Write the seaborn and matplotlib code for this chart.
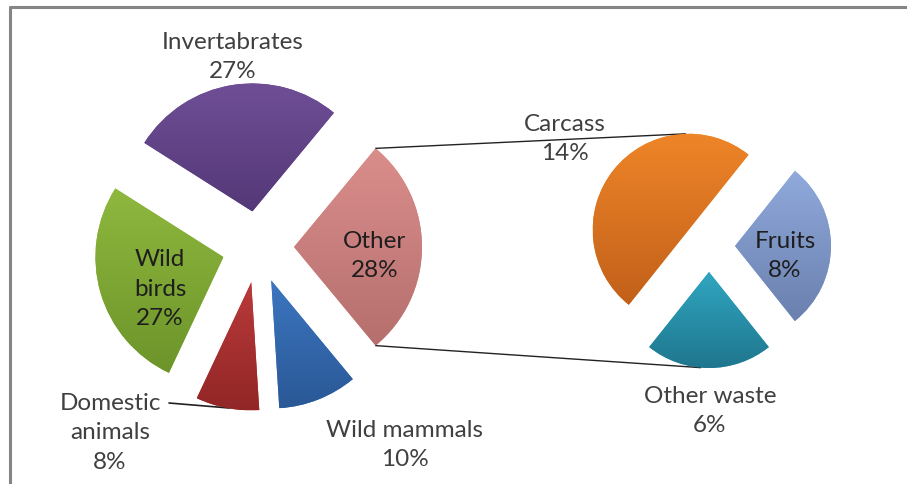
import numpy as np
import matplotlib
matplotlib.use("Agg")
import matplotlib.pyplot as plt
import seaborn as sns
from matplotlib.colors import LinearSegmentedColormap

# Main pie (share of diet, %)
main_labels = ["Other", "Invertabrates", "Wild\nbirds", "Domestic\nanimals", "Wild mammals"]
main_values = [28, 27, 27, 8, 10]

# Breakdown of "Other" (%)
sub_labels = ["Fruits", "Carcass", "Other waste"]
sub_values = [8, 14, 6]

# gradient colours (top, bottom) like the Excel style
main_top = ["#DA8E8C", "#6F4E96", "#8EB83E", "#BA3A3A", "#3C76C0"]
main_bottom = ["#B56F6D", "#533877", "#6C942A", "#922626", "#2A5896"]
sub_top = ["#90AADC", "#EE8528", "#30A6C0"]
sub_bottom = ["#6A80AE", "#C2601A", "#1F768E"]

# label anchors in pixel coords (x, y from top)
main_label_pos = [(375, 256), (233, 57), (160, 289), (110, 433), (405, 445)]
sub_label_pos = [(785, 256), (565, 139), (710, 411)]
main_label_inside = [True, False, True, False, False]
sub_label_inside = [True, False, False]

sns.set_theme(style="white")
plt.rcParams["font.family"] = ["Lato", "DejaVu Sans"]

W, H = 907, 485
fig = plt.figure(figsize=(W / 100, H / 100), dpi=100)
ax = fig.add_axes([0, 0, 1, 1])


def shade(wedges, tops, bottoms):
    # vertical gradient clipped to each wedge
    for w, c0, c1 in zip(wedges, tops, bottoms):
        w.set_edgecolor("none")
        ext = w.get_path().get_extents()
        cmap = LinearSegmentedColormap.from_list("g", [c1, c0])
        im = ax.imshow(np.linspace(0, 1, 256).reshape(-1, 1), cmap=cmap,
                       extent=[ext.x0, ext.x1, ext.y0, ext.y1], origin="lower",
                       aspect="auto", zorder=2, interpolation="bilinear")
        im.set_clip_path(w)


# left pie: "Other" centred on the right side (explode is in data units here)
start_main = -main_values[0] / sum(main_values) * 360 / 2
w_main, _ = ax.pie(main_values, startangle=start_main, counterclock=True,
                   explode=[36] * len(main_values), radius=128,
                   center=(258, H - 248), colors=main_top,
                   wedgeprops=dict(linewidth=0))
shade(w_main, main_top, main_bottom)

# right pie: breakdown, "Fruits" centred on the right side
start_sub = -sub_values[0] / sum(sub_values) * 360 / 2
w_sub, _ = ax.pie(sub_values, startangle=start_sub, counterclock=True,
                  explode=[26] * len(sub_values), radius=96,
                  center=(709, H - 247), colors=sub_top,
                  wedgeprops=dict(linewidth=0))
shade(w_sub, sub_top, sub_bottom)


def on_arc(w, ang):
    return (w.center[0] + w.r * np.cos(np.radians(ang)),
            w.center[1] + w.r * np.sin(np.radians(ang)))


# connector lines
other = w_main[0]
p_top, p_bot = on_arc(other, other.theta2), on_arc(other, other.theta1)
q_top, q_bot = on_arc(w_sub[1], 92), on_arc(w_sub[2], 265)
ax.plot([p_top[0], q_top[0]], [p_top[1], q_top[1]], color="#222222", lw=1.0, zorder=1)
ax.plot([p_bot[0], q_bot[0]], [p_bot[1], q_bot[1]], color="#222222", lw=1.0, zorder=1)

# leader line for Domestic animals
ax.plot([169, 229], [H - 404, H - 409], color="#222222", lw=1.2, zorder=1)

# labels
for lab, v, (x, y), inside in zip(main_labels, main_values, main_label_pos, main_label_inside):
    ax.text(x, H - y, f"{lab}\n{v}%", ha="center", va="center", fontsize=17.5,
            color="#1e1e1e" if inside else "#404040", linespacing=1.5, zorder=5)
for lab, v, (x, y), inside in zip(sub_labels, sub_values, sub_label_pos, sub_label_inside):
    ax.text(x, H - y, f"{lab}\n{v}%", ha="center", va="center", fontsize=17.5,
            color="#1e1e1e" if inside else "#404040", linespacing=1.5, zorder=5)

# chart frame (top and left edges visible)
ax.plot([10, W], [H - 8, H - 8], color="#858585", lw=2.2, zorder=6)
ax.plot([10, 10], [0, H - 8], color="#858585", lw=2.2, zorder=6)

ax.set_xlim(0, W)
ax.set_ylim(0, H)
ax.set_aspect("auto")
ax.axis("off")

fig.savefig("out.png", dpi=100)
